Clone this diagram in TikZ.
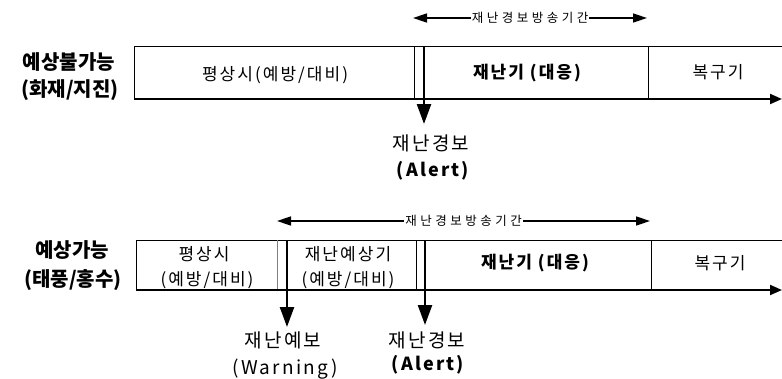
\documentclass[tikz,border=0pt]{standalone}
\usepackage{fontspec}
\setmainfont{Noto Sans CJK KR}
\newfontfamily\krsp{Noto Sans CJK KR}[LetterSpace=28]
\newfontfamily\krmid{Noto Sans CJK KR}[LetterSpace=12]
\usetikzlibrary{arrows.meta}
\tikzset{
  side/.style={font=\bfseries\fontsize{20}{23}\selectfont, inner sep=0pt},
  boxtext/.style={font=\krmid\fontsize{17}{20}\selectfont, inner sep=0pt},
  boldbox/.style={font=\krmid\bfseries\fontsize{17}{20}\selectfont, inner sep=0pt},
  spanlab/.style={font=\krsp\fontsize{12.5}{14}\selectfont, fill=white, inner sep=1pt},
  eventreg/.style={font=\krmid\fontsize{19}{22}\selectfont, inner sep=0pt},
  eventbold/.style={font=\krmid\bfseries\fontsize{18}{21}\selectfont, inner sep=0pt},
  frame/.style={line width=0.9pt},
  divider/.style={line width=0.8pt},
  timeline/.style={line width=2pt, -{Triangle[length=12pt,width=10pt]}},
  drop/.style={line width=2.4pt, -{Triangle[length=20pt,width=14pt]}},
  span/.style={line width=1.6pt, {Triangle[length=14pt,width=9pt]}-{Triangle[length=14pt,width=9pt]}}
}
\begin{document}
\begin{tikzpicture}[x=1pt,y=-1pt]
\useasboundingbox (0,0) rectangle (782,378);

% ---------- top row ----------
\coordinate (a0) at (134,46);
\coordinate (a1) at (782,46);
\coordinate (b0) at (134,99);
\coordinate (b1) at (782,99);
\draw[frame] (a0) -- (a1);
\draw[frame] (a0) -- (b0);
\draw[divider] (414,46) coordinate (d1t) -- (414,99) coordinate (d1b);
\draw[divider] (648,46) coordinate (d2t) -- (648,99) coordinate (d2b);
\draw[timeline] (b0) -- (b1);

\node[side] (L1a) at (69,62) {예상불가능};
\node[side] (L1b) at (70,90) {(화재/지진)};
\node[boxtext] (T1) at (275,75) {평상시(예방/대비)};
\node[boldbox] (T2) at (527,73) {재난기 (대응)};
\node[boxtext] (T3) at (718,72) {복구기};

\coordinate (sA) at (413,18);
\coordinate (sB) at (647,18);
\draw[span] (sA) -- (sB) node[midway, spanlab] (S1) {재난경보방송기간};

\coordinate (v1t) at (424,46);
\coordinate (v1b) at (424,124);
\draw[drop] (v1t) -- (v1b);
\node[eventreg] (E1a) at (431,143) {재난경보};
\node[eventbold] (E1b) at (433,171) {(Alert)};

% ---------- bottom row ----------
\coordinate (c0) at (136,240);
\coordinate (c1) at (782,240);
\coordinate (e0) at (136,290);
\coordinate (e1) at (782,290);
\draw[frame] (c0) -- (c1);
\draw[frame] (c0) -- (e0);
\draw[divider, gray] (277,240) coordinate (f1t) -- (277,290) coordinate (f1b);
\draw[divider] (416,240) coordinate (f2t) -- (416,290) coordinate (f2b);
\draw[divider] (651,240) coordinate (f3t) -- (651,290) coordinate (f3b);
\draw[timeline] (e0) -- (e1);

\node[side] (L2a) at (72,250) {예상가능};
\node[side] (L2b) at (73,280) {(태풍/홍수)};
\node[boxtext] (U1) at (204,254) {평상시};
\node[boxtext] (U2) at (207,280) {(예방/대비)};
\node[boxtext] (U3) at (348,254) {재난예상기};
\node[boxtext] (U4) at (348,280) {(예방/대비)};
\node[boldbox] (U5) at (535,263) {재난기 (대응)};
\node[boxtext] (U6) at (720,263) {복구기};

\coordinate (sC) at (277,221);
\coordinate (sD) at (650,221);
\draw[span] (sC) -- (sD) node[midway, spanlab] (S2) {재난경보방송기간};

\coordinate (v2t) at (287,240);
\coordinate (v2b) at (287,327);
\draw[drop] (v2t) -- (v2b);
\coordinate (v3t) at (425,240);
\coordinate (v3b) at (425,325);
\draw[drop] (v3t) -- (v3b);

\node[eventreg] (E2a) at (283,340) {재난예보};
\node[eventreg] (E2b) at (285,369) {(Warning)};
\node[eventreg] (E3a) at (427,340) {재난경보};
\node[eventbold] (E3b) at (428,365) {(Alert)};
\end{tikzpicture}
\end{document}
